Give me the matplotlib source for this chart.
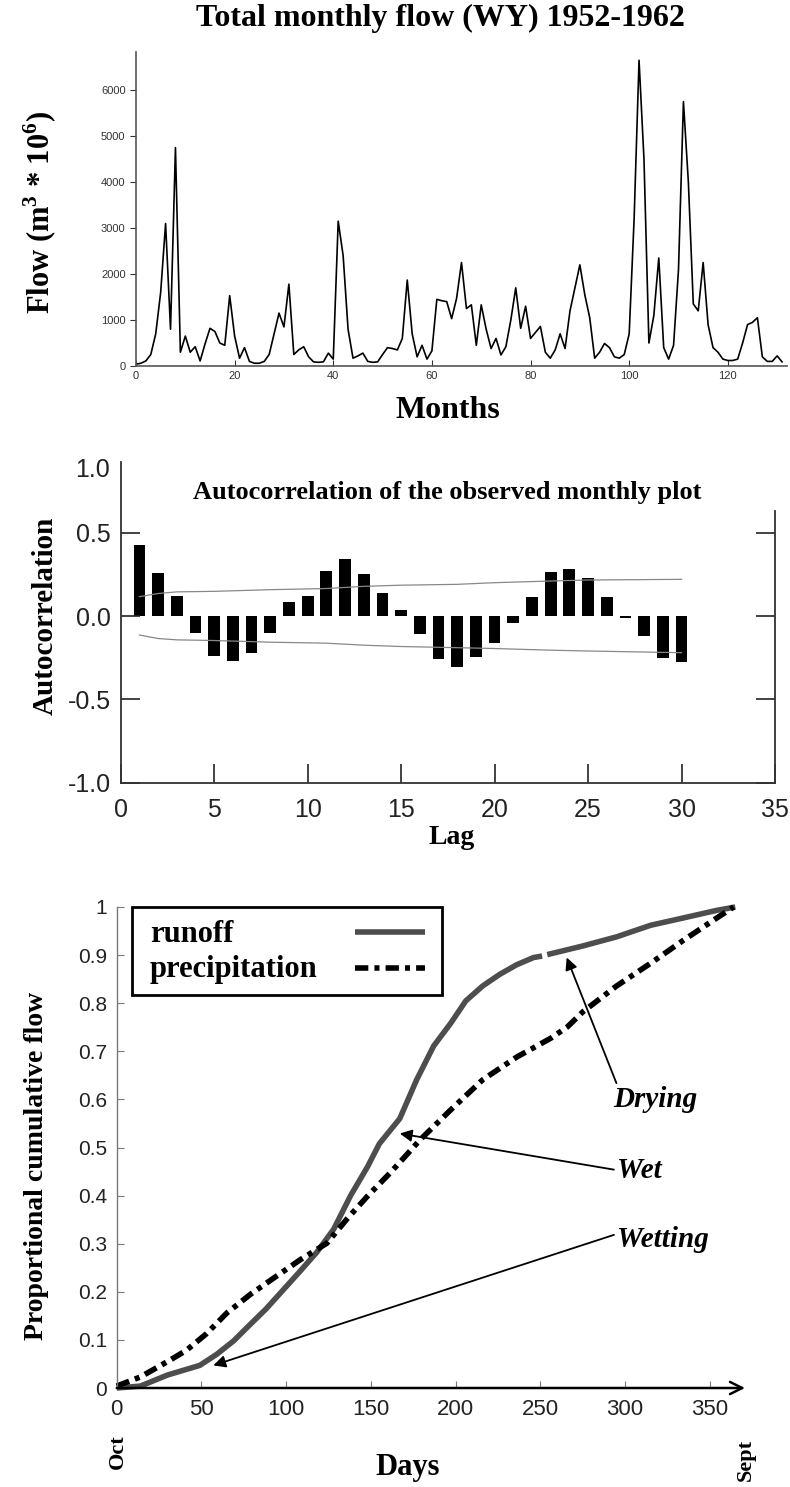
import numpy as np
import matplotlib
matplotlib.use("agg")
import matplotlib.pyplot as plt
import matplotlib.transforms as mtransforms
from matplotlib.lines import Line2D
from matplotlib.patches import Rectangle

plt.rcParams["font.family"] = "Liberation Sans"
plt.rcParams["mathtext.fontset"] = "custom"
plt.rcParams["mathtext.rm"] = "Liberation Serif:bold"
plt.rcParams["mathtext.bf"] = "Liberation Serif:bold"
SERIF = "Liberation Serif"

# total monthly flow, months 0..131 (m3 * 10^6)
flow = [40, 60, 110, 250, 700, 1600, 3100, 800, 4750, 300,
        650, 300, 420, 110, 480, 820, 750, 500, 450, 1530,
        650, 170, 400, 100, 60, 60, 100, 250, 700, 1150,
        850, 1780, 250, 350, 420, 200, 90, 80, 90, 280,
        150, 3150, 2400, 800, 170, 220, 280, 100, 80, 90,
        250, 400, 380, 350, 600, 1870, 700, 200, 450, 150,
        330, 1450, 1420, 1400, 1030, 1470, 2250, 1250, 1330, 450,
        1330, 800, 380, 600, 240, 420, 1000, 1700, 820, 1300,
        600, 730, 860, 300, 170, 350, 700, 380, 1200, 1700,
        2200, 1550, 1050, 170, 300, 490, 400, 200, 170, 250,
        700, 3200, 6650, 4500, 500, 1100, 2350, 400, 150, 450,
        2100, 5750, 4000, 1350, 1200, 2250, 900, 400, 300, 150,
        120, 120, 150, 500, 900, 950, 1050, 200, 100, 100,
        220, 90]
months = np.arange(len(flow))

# autocorrelation by lag
lags = np.arange(1, 31)
acf = [0.426, 0.256, 0.12, -0.10, -0.24, -0.27, -0.224, -0.104, 0.086, 0.12,
       0.27, 0.344, 0.25, 0.136, 0.036, -0.108, -0.26, -0.308, -0.244, -0.164,
       -0.04, 0.112, 0.262, 0.28, 0.226, 0.112, -0.01, -0.118, -0.254, -0.278]

# confidence band
band_lags = [1, 2, 3, 5, 8, 11, 13, 15, 18, 20, 23, 25, 30]
band_upper = [0.116, 0.135, 0.145, 0.148, 0.158, 0.165, 0.178, 0.185, 0.19, 0.2, 0.21, 0.216, 0.22]
band_lower = [-0.114, -0.135, -0.143, -0.147, -0.157, -0.163, -0.175, -0.183, -0.19, -0.195, -0.205, -0.21, -0.22]

# proportional cumulative flow over the water year
runoff_day = [0, 14, 30, 49, 59, 69, 79, 88, 98, 108, 118, 128, 138, 148, 155, 167,
              177, 187, 197, 206, 216, 226, 236, 246, 251, 252, 254, 275, 295, 315, 334, 354, 365]
runoff = [0.0, 0.004, 0.027, 0.047, 0.07, 0.098, 0.133, 0.164, 0.203, 0.242, 0.282, 0.33,
          0.40, 0.46, 0.508, 0.56, 0.641, 0.711, 0.758, 0.805, 0.836, 0.86, 0.88, 0.895,
          0.898, np.nan, 0.901, 0.919, 0.938, 0.962, 0.977, 0.993, 1.0]
precip_day = [0, 14, 30, 41, 53, 65, 79, 92, 108, 124, 136, 148, 161, 167, 179, 197,
              216, 236, 256, 266, 275, 295, 315, 334, 354, 364]
precip = [0.004, 0.023, 0.055, 0.078, 0.113, 0.156, 0.195, 0.227, 0.266, 0.301, 0.352,
          0.399, 0.446, 0.469, 0.516, 0.578, 0.641, 0.688, 0.727, 0.751, 0.782, 0.836,
          0.883, 0.930, 0.977, 1.0]

# phase labels: arrow target and text anchor in (day, value)
phase_names = ["Drying", "Wet", "Wetting"]
phase_xy = [(265.5, 0.895), (167, 0.529), (57, 0.047)]
phase_text_xy = [(293, 0.60), (295, 0.453), (295, 0.309)]

W, H = 790, 1487
fig = plt.figure(figsize=(W / 100, H / 100), dpi=100)


def box(left, top, right, bottom):
    return [left / W, 1 - bottom / H, (right - left) / W, (bottom - top) / H]


def ftext(x, y, s, ha="center", **kw):
    fig.text(x / W, 1 - y / H, s, ha=ha, va="center",
             fontfamily=SERIF, fontweight="bold", **kw)


# panel 1: monthly flow
ax1 = fig.add_axes(box(136, 52, 787, 366))
ax1.plot(months, flow, color="black", lw=1.2)
ax1.set_xlim(0, 132)
ax1.set_ylim(0, 6830)
ax1.set_xticks(range(0, 140, 20))
ax1.set_yticks(range(0, 7000, 1000))
for s in ["top", "right"]:
    ax1.spines[s].set_visible(False)
for s in ["left", "bottom"]:
    ax1.spines[s].set_color("#555555")
    ax1.spines[s].set_linewidth(1.2)
ax1.tick_params(axis="y", direction="out", length=4, labelsize=8, colors="#333333")
ax1.tick_params(axis="x", direction="in", length=4, labelsize=8, colors="#333333")
ftext(440, 18, "Total monthly flow (WY) 1952-1962", fontsize=23)
ftext(40, 212, r"Flow (m$^{3}$ * 10$^{6}$)", fontsize=22, rotation=90)
ftext(448, 410, "Months", fontsize=23)

# panel 2: autocorrelation
ax2 = fig.add_axes(box(120.7, 462, 775, 782.7))
ax2.bar(lags, acf, width=0.63, color="black")
ax2.plot(band_lags, band_upper, color="#888888", lw=0.9)
ax2.plot(band_lags, band_lower, color="#888888", lw=0.9)
ax2.set_xlim(0, 35)
ax2.set_ylim(-1.0, 0.924)
ax2.set_xticks(range(0, 40, 5))
ax2.set_yticks([-1.0, -0.5, 0.0, 0.5])
ax2.set_yticklabels(["-1.0", "-0.5", "0.0", "0.5"])
ax2.spines["top"].set_visible(False)
ax2.spines["right"].set_bounds(-1.0, 0.63)
for s in ["left", "bottom", "right"]:
    ax2.spines[s].set_color("#333333")
    ax2.spines[s].set_linewidth(1.3)
ax2.tick_params(direction="in", length=14, width=1.2, labelsize=18, colors="#222222")
ax2.tick_params(axis="y", right=True, pad=7)
ax2.tick_params(axis="x", pad=11)
trans = mtransforms.blended_transform_factory(ax2.transAxes, ax2.transData)
ax2.text(-0.016, 0.876, "1.0", transform=trans, ha="right", va="center",
         fontsize=18, color="#222222")
ftext(447, 492, "Autocorrelation of the observed monthly plot", fontsize=19)
ftext(45, 616, "Autocorrelation", fontsize=21, rotation=90)
ftext(452, 837, "Lag", fontsize=20)

# panel 3: cumulative runoff vs precipitation
ax3 = fig.add_axes(box(116.7, 907, 745, 1388))
ax3.plot(runoff_day, runoff, color="#4d4d4d", lw=4, solid_capstyle="butt", clip_on=False)
ax3.plot(precip_day, precip, color="black", lw=4, dashes=(2.4, 1.1, 0.9, 1.1),
         dash_capstyle="butt", clip_on=False)
ax3.set_xlim(0, 370.7)
ax3.set_ylim(0, 1.0)
ax3.set_xticks(range(0, 400, 50))
ax3.set_yticks(np.arange(0, 1.01, 0.1))
ax3.set_yticklabels(["0", "0.1", "0.2", "0.3", "0.4", "0.5", "0.6", "0.7", "0.8", "0.9", "1"])
for s in ["top", "right", "bottom"]:
    ax3.spines[s].set_visible(False)
ax3.spines["left"].set_color("#777777")
ax3.spines["left"].set_linewidth(1.0)
ax3.tick_params(direction="in", length=5, color="#777777", labelcolor="#222222")
ax3.tick_params(axis="y", labelsize=15, pad=7)
ax3.tick_params(axis="x", labelsize=16, pad=8)
ax3.annotate("", xy=(1.0, 0), xytext=(0, 0), xycoords="axes fraction",
             arrowprops=dict(arrowstyle="->", lw=1.8, mutation_scale=22,
                             color="black", shrinkA=0, shrinkB=0))

# legend drawn by hand: text left, sample line right
fig.add_artist(Rectangle((132 / W, 1 - 995 / H), 310 / W, 88 / H, transform=fig.transFigure,
                         fill=False, edgecolor="black", lw=2))
ftext(150, 935, "runoff", ha="left", fontsize=22)
ftext(150, 969, "precipitation", ha="left", fontsize=22)
fig.add_artist(Line2D([355 / W, 425 / W], [1 - 932 / H, 1 - 932 / H], transform=fig.transFigure,
                      color="#4d4d4d", lw=4, solid_capstyle="butt"))
fig.add_artist(Line2D([355 / W, 425 / W], [1 - 968 / H, 1 - 968 / H], transform=fig.transFigure,
                      color="black", lw=4, dashes=(2.4, 1.1, 0.9, 1.1), dash_capstyle="butt"))

for name, xy, txy, rel in zip(phase_names, phase_xy, phase_text_xy,
                              [(0.05, 1.0), (0.0, 0.5), (0.0, 0.7)]):
    ax3.annotate(name, xy=xy, xytext=txy, ha="left", va="center",
                 fontfamily=SERIF, fontweight="bold", fontstyle="italic", fontsize=21,
                 arrowprops=dict(arrowstyle="-|>", lw=1.3, mutation_scale=18,
                                 color="black", shrinkA=0, shrinkB=0, relpos=rel))

ftext(37, 1166, "Proportional cumulative flow", fontsize=20, rotation=90)
ftext(118, 1452, "Oct", fontsize=16, rotation=90)
ftext(746, 1460, "Sept", fontsize=16, rotation=90)
ftext(408, 1467, "Days", fontsize=22)

plt.savefig("out.png", dpi=100)
plt.close()
